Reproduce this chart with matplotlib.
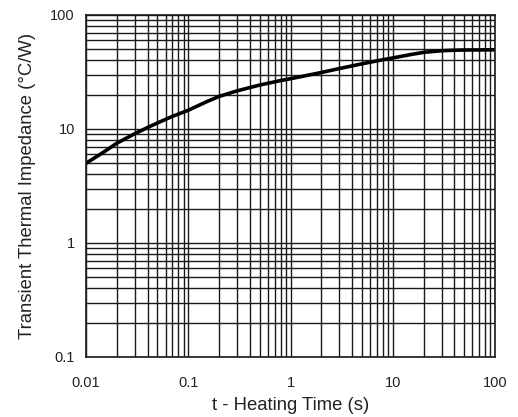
import matplotlib
matplotlib.use("Agg")
from matplotlib import pyplot as plt
from matplotlib.ticker import LogLocator, FixedLocator, FixedFormatter, NullFormatter

# curve (time in s, impedance in degC/W)
t = [0.01, 0.015, 0.02, 0.03, 0.04, 0.05, 0.07, 0.1, 0.15, 0.2, 0.3, 0.5, 0.8, 1,
     2, 3, 5, 7, 10, 15, 20, 30, 40, 50, 100]
z = [5.0, 6.3, 7.5, 9.1, 10.3, 11.3, 12.9, 14.6, 17.3, 19.3, 21.6, 24.3, 26.6, 27.6,
     31.3, 33.9, 37.3, 39.6, 42.0, 45.0, 47.0, 48.6, 49.1, 49.3, 49.5]

x_ticks = [0.01, 0.1, 1, 10, 100]
x_labels = ["0.01", "0.1", "1", "10", "100"]
y_ticks = [0.1, 1, 10, 100]
y_labels = ["0.1", "1", "10", "100"]

plt.rcParams['font.family'] = ['Liberation Sans', 'DejaVu Sans']

fig = plt.figure(figsize=(5.18, 4.17), dpi=100)
ax = fig.add_axes([86 / 518, 1 - 357 / 417, 409 / 518, 342 / 417])

ax.plot(t, z, color='black', linewidth=2.6, solid_capstyle='butt', solid_joinstyle='round')

ax.set_xscale('log')
ax.set_yscale('log')
ax.set_xlim(0.01, 100)
ax.set_ylim(0.1, 100)

ax.xaxis.set_major_locator(FixedLocator(x_ticks))
ax.xaxis.set_major_formatter(FixedFormatter(x_labels))
ax.yaxis.set_major_locator(FixedLocator(y_ticks))
ax.yaxis.set_major_formatter(FixedFormatter(y_labels))
ax.xaxis.set_minor_locator(LogLocator(base=10, subs=range(2, 10), numticks=20))
ax.yaxis.set_minor_locator(LogLocator(base=10, subs=range(2, 10), numticks=20))
ax.xaxis.set_minor_formatter(NullFormatter())
ax.yaxis.set_minor_formatter(NullFormatter())

ax.grid(True, which='both', color='#1a1a1a', linewidth=1.0)
ax.set_axisbelow(True)
ax.tick_params(which='both', length=0, labelsize=10.5, colors='#222222')
ax.tick_params(axis='x', pad=14)
ax.tick_params(axis='y', pad=8)
for s in ax.spines.values():
    s.set_color('#1a1a1a')
    s.set_linewidth(1.2)

ax.set_xlabel("t - Heating Time (s)", fontsize=13.3, color='#222222', labelpad=5)
ax.set_ylabel("Transient Thermal Impedance (°C/W)", fontsize=13.3, color='#222222', labelpad=10)

fig.savefig("out.png", dpi=100)
